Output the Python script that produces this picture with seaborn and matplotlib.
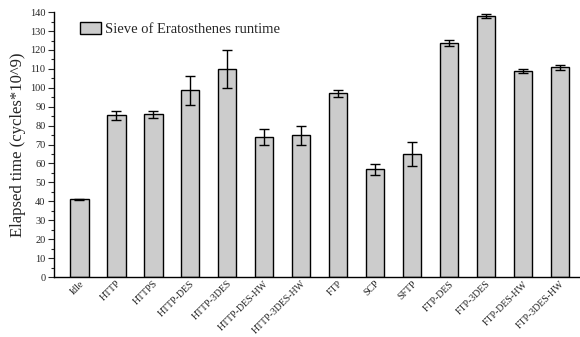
import matplotlib
matplotlib.use("Agg")
import matplotlib.pyplot as plt
import seaborn as sns
import pandas as pd
import numpy as np
from matplotlib.ticker import MultipleLocator

categories = ["Idle", "HTTP", "HTTPS", "HTTP-DES", "HTTP-3DES", "HTTP-DES-HW",
              "HTTP-3DES-HW", "FTP", "SCP", "SFTP", "FTP-DES", "FTP-3DES",
              "FTP-DES-HW", "FTP-3DES-HW"]
runtime = [41.0, 85.4, 85.9, 98.6, 109.9, 74.0, 75.0, 97.2, 56.9, 65.1,
           123.8, 137.9, 109.0, 110.9]
errors = [0.3, 2.6, 1.8, 7.8, 10.0, 4.0, 5.0, 1.8, 3.0, 6.5, 1.6, 1.0, 1.2, 1.4]
series_label = "Sieve of Eratosthenes runtime"
ylabel = "Elapsed time (cycles*10^9)"

sns.set_theme(style="ticks")
plt.rcParams['font.family'] = ['Liberation Serif', 'DejaVu Serif']

df = pd.DataFrame({"cat": categories, "val": runtime, "err": errors})

fig = plt.figure(figsize=(5.8, 3.37), dpi=100)
ax = fig.add_axes([0.093, 0.178, 0.905, 0.786])

sns.barplot(data=df, x="cat", y="val", color="#cccccc", saturation=1,
            edgecolor="black", linewidth=1.0, width=0.51, ax=ax,
            label=series_label, errorbar=None)
ax.errorbar(np.arange(len(categories)), df["val"], yerr=df["err"], fmt="none",
            ecolor="black", elinewidth=1.0, capsize=3.5, capthick=1.0)

ax.set_ylim(0, 140)
ax.set_xlim(-0.68, len(categories) - 0.49)
ax.yaxis.set_major_locator(MultipleLocator(10))
ax.yaxis.set_minor_locator(MultipleLocator(5))
ax.tick_params(axis="y", which="major", direction="out", length=4, width=0.8,
               labelsize=7.5, pad=2)
ax.tick_params(axis="y", which="minor", direction="out", length=2, width=0.8)
ax.tick_params(axis="x", length=0, labelsize=7.1, pad=1.5)
for lbl in ax.get_xticklabels():
    lbl.set_rotation(45)
    lbl.set_ha("right")
    lbl.set_rotation_mode("anchor")
ax.set_xlabel("")
ax.set_ylabel(ylabel, fontsize=12, labelpad=3)
for s in ["top", "right"]:
    ax.spines[s].set_visible(False)
for s in ["left", "bottom"]:
    ax.spines[s].set_linewidth(1.0)
    ax.spines[s].set_color("black")

leg = ax.legend(loc="upper left", bbox_to_anchor=(0.03, 1.0), frameon=False,
                fontsize=10.5, handlelength=1.45, handleheight=0.9,
                handletextpad=0.3, borderaxespad=0.3)

fig.savefig("out.png", dpi=100)
